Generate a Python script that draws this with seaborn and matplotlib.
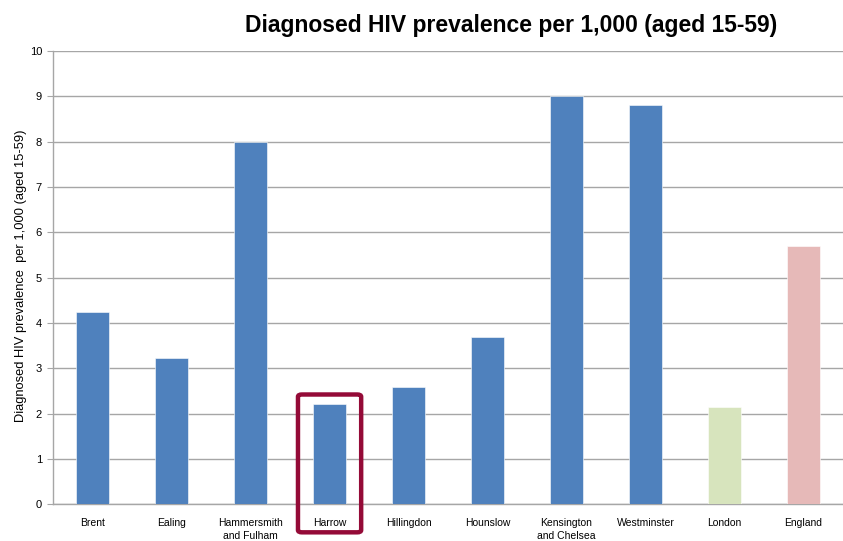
import seaborn as sns
import matplotlib.pyplot as plt
import pandas as pd
from matplotlib.patches import FancyBboxPatch

areas = ['Brent', 'Ealing', 'Hammersmith\nand Fulham', 'Harrow', 'Hillingdon',
         'Hounslow', 'Kensington\nand Chelsea', 'Westminster', 'London', 'England']
prevalence = [4.24, 3.22, 8.0, 2.21, 2.58, 3.69, 9.0, 8.81, 2.14, 5.70]
bar_colours = ['#4F81BD'] * 8 + ['#D7E4BD', '#E6B9B8']
yticks = list(range(0, 11))

sns.set_style('white')
plt.rcParams['font.family'] = ['Liberation Sans', 'DejaVu Sans']
plt.rcParams['text.color'] = 'black'
plt.rcParams['xtick.color'] = 'black'
plt.rcParams['ytick.color'] = 'black'
plt.rcParams['axes.labelcolor'] = 'black'

df = pd.DataFrame({'area': areas, 'value': prevalence})

fig = plt.figure(figsize=(8.43, 5.41), dpi=100)
ax = fig.add_axes([0.063, 0.068, 0.937, 0.838])
sns.barplot(data=df, x='area', y='value', hue='area', palette=bar_colours, saturation=1,
            legend=False, width=0.41, edgecolor='white', linewidth=0.4, ax=ax, zorder=3)

ax.set_ylim(0, 10)
ax.set_xlim(-0.5, len(areas) - 0.5)
ax.set_yticks(yticks)
ax.set_yticklabels([str(t) for t in yticks], fontsize=8)
ax.yaxis.grid(True, color='#A6A6A6', linewidth=1.0, zorder=0)
ax.set_axisbelow(True)

# category ticks sit between bars
ax.set_xticks([i + 0.5 for i in range(-1, len(areas))], minor=True)
ax.tick_params(axis='x', which='major', length=0, labelsize=7.5, pad=10)
ax.tick_params(axis='x', which='minor', length=4, color='#A6A6A6', direction='out')
ax.tick_params(axis='y', length=4, color='#A6A6A6', direction='out', left=True, pad=4)
for lbl in ax.get_xticklabels():
    lbl.set_linespacing(1.35)
    lbl.set_va('top')

for s in ['top', 'right']:
    ax.spines[s].set_visible(False)
for s in ['left', 'bottom']:
    ax.spines[s].set_color('#A6A6A6')
    ax.spines[s].set_linewidth(1.0)

ax.set_xlabel('')
ax.set_ylabel('Diagnosed HIV prevalence  per 1,000 (aged 15-59)', fontsize=9.3)
ax.yaxis.set_label_coords(-0.033, 0.505)

fig.suptitle('Diagnosed HIV prevalence per 1,000 (aged 15-59)', fontsize=16.5,
             fontweight='bold', x=0.606, y=0.975)

# highlight box around Harrow
box = FancyBboxPatch((2.6, -0.62), 0.8, 3.04, boxstyle='round,pad=0,rounding_size=0.05',
                     fill=False, edgecolor='#940A37', linewidth=3.2, clip_on=False, zorder=5)
ax.add_patch(box)

plt.savefig('out.png', dpi=100)
